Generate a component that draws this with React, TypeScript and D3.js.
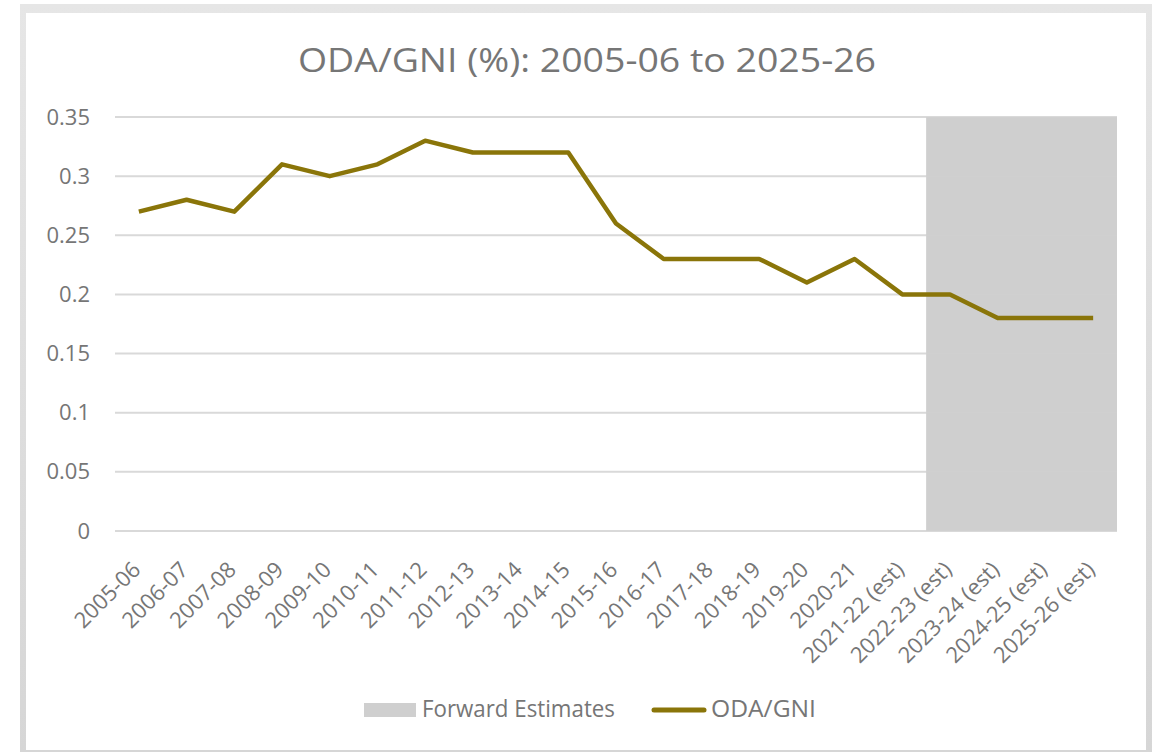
import React from "react";
import * as d3 from "d3";

const categories = [
  "2005-06", "2006-07", "2007-08", "2008-09", "2009-10", "2010-11", "2011-12",
  "2012-13", "2013-14", "2014-15", "2015-16", "2016-17", "2017-18", "2018-19",
  "2019-20", "2020-21", "2021-22 (est)", "2022-23 (est)", "2023-24 (est)",
  "2024-25 (est)", "2025-26 (est)",
];
const odaGni = [
  0.27, 0.28, 0.27, 0.31, 0.30, 0.31, 0.33, 0.32, 0.32, 0.32, 0.26,
  0.23, 0.23, 0.23, 0.21, 0.23, 0.20, 0.20, 0.18, 0.18, 0.18,
];
const forwardEstimates = ["2022-23 (est)", "2023-24 (est)", "2024-25 (est)", "2025-26 (est)"];
const yTicks = [0, 0.05, 0.1, 0.15, 0.2, 0.25, 0.3, 0.35];

const W = 1152;
const H = 752;
const FONT = "'Open Sans', Lato, sans-serif";
const TEXT = "#767676";
const LINE = "#8a7509";
const SHADE = "#cfcfcf";

export default function App() {
  const left = 115, right = 1117, top = 117, bottom = 531;
  const x = d3.scaleBand<string>().domain(categories).range([left, right]).paddingInner(0).paddingOuter(0);
  const y = d3.scaleLinear().domain([0, 0.35]).range([bottom, top]);
  const line = d3.line<number>()
    .x((_, i) => (x(categories[i]) as number) + x.bandwidth() / 2)
    .y((d) => y(d));
  const fx0 = x(forwardEstimates[0]) as number;
  const fx1 = (x(forwardEstimates[forwardEstimates.length - 1]) as number) + x.bandwidth();

  return (
    <svg width={W} height={H} style={{ position: "absolute", left: 0, top: 0 }}>
      <defs>
        <linearGradient id="topShadow" x1="0" y1="0" x2="0" y2="1">
          <stop offset="0" stopColor="#e6e6e6" />
          <stop offset="1" stopColor="#d6d6d6" />
        </linearGradient>
      </defs>
      <rect x={0} y={0} width={W} height={H} fill="#ffffff" />
      <rect x={20} y={4} width={1132} height={748} fill="url(#topShadow)" />
      <rect x={26} y={13} width={1120} height={737} fill="#ffffff" />
      <text x={587} y={72} textAnchor="middle" fontFamily={FONT} fontSize={32} fill={TEXT}
        textLength={578} lengthAdjust="spacingAndGlyphs">
        ODA/GNI (%): 2005-06 to 2025-26
      </text>
      <rect x={fx0} y={y(0.35)} width={fx1 - fx0} height={y(0) - y(0.35)} fill={SHADE} />
      {yTicks.map((t) => (
        <g key={t}>
          <line x1={left} x2={right} y1={y(t)} y2={y(t)} stroke="#d0d0d0" strokeOpacity={0.8} strokeWidth={2} />
          <text x={90} y={y(t) + 7.5} textAnchor="end" fontFamily={FONT} fontSize={22} fill={TEXT}>
            {String(t)}
          </text>
        </g>
      ))}
      <path d={line(odaGni) as string} fill="none" stroke={LINE} strokeWidth={4.5} strokeLinejoin="round" />
      {categories.map((c) => {
        const cx = (x(c) as number) + x.bandwidth() / 2 + 3;
        const cy = 571;
        return (
          <text key={c} transform={`translate(${cx},${cy}) rotate(-45)`} textAnchor="end"
            fontFamily={FONT} fontSize={22} fill={TEXT}>
            {c}
          </text>
        );
      })}
      <rect x={364} y={703} width={52} height={14} fill={SHADE} />
      <text x={422} y={717} fontFamily={FONT} fontSize={23} fill={TEXT}
        textLength={193} lengthAdjust="spacingAndGlyphs">Forward Estimates</text>
      <line x1={654} x2={704} y1={710} y2={710} stroke={LINE} strokeWidth={5} strokeLinecap="round" />
      <text x={711} y={717} fontFamily={FONT} fontSize={23} fill={TEXT}
        textLength={105} lengthAdjust="spacingAndGlyphs">ODA/GNI</text>
    </svg>
  );
}
